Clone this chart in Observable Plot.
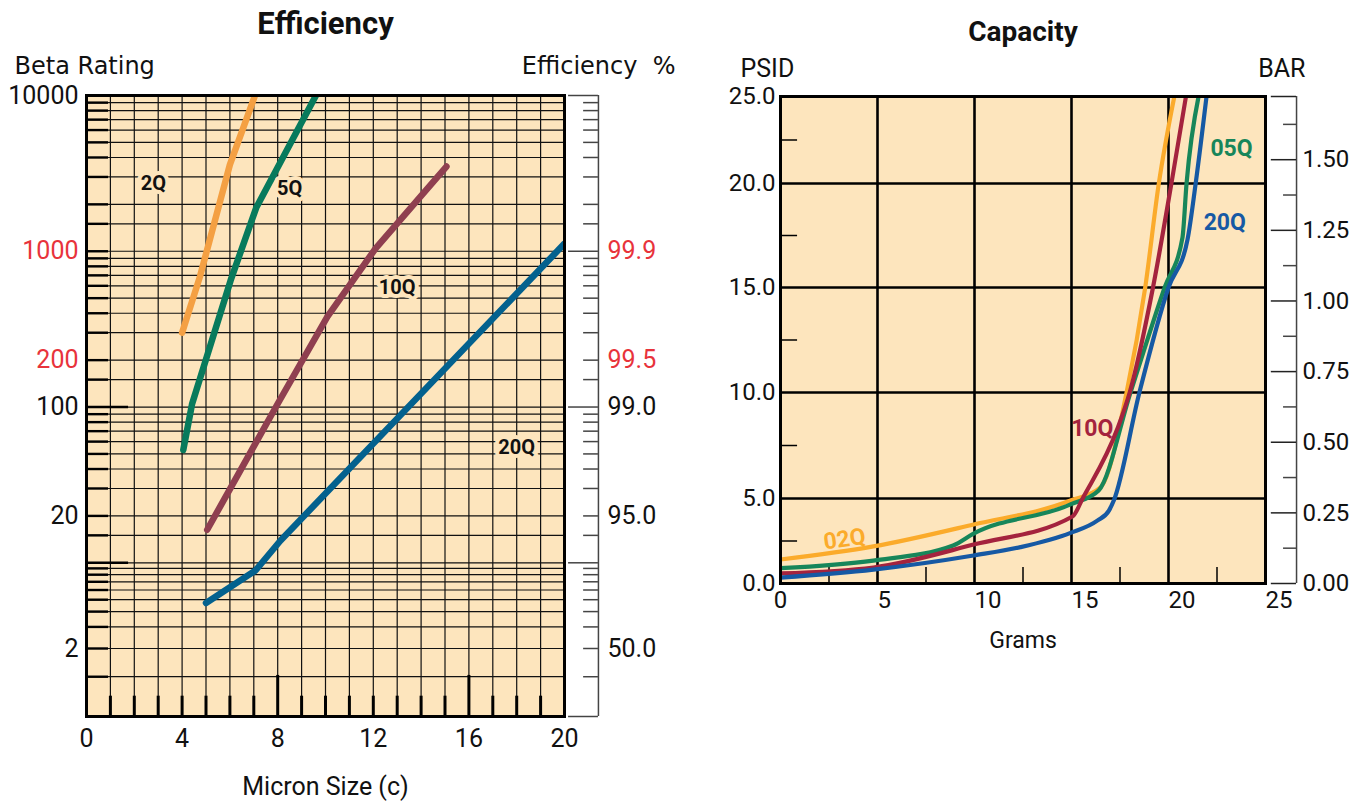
<!DOCTYPE html>
<html>
<head>
<meta charset="utf-8">
<script src="https://cdn.jsdelivr.net/npm/d3@7"></script>
<script src="https://cdn.jsdelivr.net/npm/@observablehq/plot@0.6"></script>
<style>
  html, body { margin: 0; padding: 0; background: #ffffff; }
  #wrap { position: relative; width: 1362px; height: 801px; overflow: hidden; }
  #wrap svg { position: absolute; top: 0; }
</style>
</head>
<body>
<div id="wrap"></div>
<script>
// ================= EFFICIENCY (Beta rating vs micron size) =================
const micron2Q  = [4, 4.75, 6, 7.05];
const beta2Q    = [300, 690, 3600, 10000];
const micron5Q  = [4.05, 4.42, 5.05, 6.03, 7.1, 9.6];
const beta5Q    = [53, 105, 214, 650, 1900, 10000];
const micron10Q = [5.05, 8, 10.08, 12.09, 15.06];
const beta10Q   = [16.3, 105, 380, 1040, 3500];
const micron20Q = [5, 7.07, 8.12, 20];
const beta20Q   = [4.7, 8.65, 13.9, 1120];

const effSeriesNames  = ["2Q", "5Q", "10Q", "20Q"];
const effSeriesColors = ["#f4a043", "#087a5c", "#8f3f50", "#03618e"];
const effLabelMicron  = [2.8, 8.5, 13.0, 18.0];
const effLabelBeta    = [2720, 2530, 585, 55];

const betaTickValues  = [10000, 1000, 200, 100, 20, 2];
const betaTickLabels  = ["10000", "1000", "200", "100", "20", "2"];
const betaTickRed     = [false, true, true, false, false, false];
const effTickBeta     = [1000, 200, 100, 20, 2];
const effTickLabels   = ["99.9", "99.5", "99.0", "95.0", "50.0"];
const effTickRed      = [true, true, false, false, false];
const micronTicks     = [0, 4, 8, 12, 16, 20];
const micronGrid      = [1,2,3,4,5,6,7,8,9,10,11,12,13,14,15,16,17,18,19];
const micronLongTicks = [8, 16];
const gridMultipliers = [1, 1.5, 2, 3, 4, 5, 6, 7, 8, 9];
const decadeStarts    = [1, 10, 100, 1000];
const decadeLines     = [1, 10, 100, 1000, 10000];
const leftLongTicks   = [10, 100];

// ================= CAPACITY (PSID vs grams) =================
const grams02Q = [0, 4.79, 9.95, 14.95, 16.5, 17.84, 18.8, 19.5, 20.3];
const psid02Q  = [1.41, 2.18, 3.47, 4.88, 5.53, 10, 15, 20, 25];
const grams05Q = [0, 4.79, 8.9, 9.93, 14.95, 16.4, 18.04, 19.8, 20.72, 20.93, 21.55];
const psid05Q  = [0.9, 1.35, 2.24, 2.92, 4.65, 5.38, 10, 15, 17.4, 20, 25];
const grams10Q = [0, 4.79, 9.95, 15.05, 15.6, 17.37, 18.0, 19.2, 20.15, 20.9];
const psid10Q  = [0.59, 0.94, 2.29, 3.94, 5.05, 8.3, 10, 15, 20, 25];
const grams20Q = [0, 4.79, 9.95, 12.37, 14.95, 16.33, 16.93, 17.18, 18.5, 20.0, 20.98, 21.4, 21.96];
const psid20Q  = [0.35, 0.82, 1.65, 2.14, 2.98, 3.7, 4.29, 4.88, 10, 15, 17.3, 20, 25];

const capSeriesNames  = ["02Q", "05Q", "10Q", "20Q"];
const capSeriesColors = ["#fbab2b", "#17865a", "#a4233e", "#1659a4"];
const capLabelGrams   = [3.3, 23.25, 16.07, 22.9];
const capLabelPsid    = [2.6, 22.0, 8.28, 18.14];
const capLabelRotate  = [-8, 0, 0, 0];

const psidTicks   = [0, 5, 10, 15, 20, 25];
const psidLabels  = ["0.0", "5.0", "10.0", "15.0", "20.0", "25.0"];
const gramTicks   = [0, 5, 10, 15, 20, 25];
const gramLabels  = ["0", "5", "10", "15", "20", "25"];
const psidMinor   = [2.5, 7.5, 12.5, 17.5, 22.5];
const gramMinor   = [2.5, 7.5, 12.5, 17.5, 22.5];
const barMajor    = [0, 0.25, 0.5, 0.75, 1.0, 1.25, 1.5];
const barLabels   = ["0.00", "0.25", "0.50", "0.75", "1.00", "1.25", "1.50"];
const barMinor    = [0.125, 0.375, 0.625, 0.875, 1.125, 1.375, 1.625];
const PSI_PER_BAR = 14.5038;

// ================= styling / layout constants =================
const PEACH = "#fde5bd";
const FONT = "Roboto, 'Noto Sans', sans-serif";
const wrap = document.getElementById("wrap");

const betaGrid = decadeStarts.flatMap(d => gridMultipliers.map(m => m * d)).concat([10000]);
const toRows = (xs, ys) => xs.map((x, i) => ({x, y: ys[i]}));

// ---------- Efficiency chart ----------
const EFF_AXIS_X = 21.42;
const effTop = 95, effBottom = 716;
const effLines = [
  toRows(micron2Q, beta2Q), toRows(micron5Q, beta5Q),
  toRows(micron10Q, beta10Q), toRows(micron20Q, beta20Q)
];
const effLabels = effSeriesNames.map((t, i) => ({t, x: effLabelMicron[i], y: effLabelBeta[i]}));
const betaTicks = betaTickValues.map((v, i) => ({v, t: betaTickLabels[i], red: betaTickRed[i]}));
const effTicks = effTickBeta.map((v, i) => ({v, t: effTickLabels[i], red: effTickRed[i]}));
const MID = {lineAnchor: "middle"};

const effPlot = Plot.plot({
  width: 700, height: 801,
  marginLeft: 86, marginRight: 136, marginTop: effTop, marginBottom: 801 - effBottom,
  style: {fontFamily: FONT, fontSize: "25px", background: "transparent", overflow: "visible", color: "#000"},
  x: {type: "linear", domain: [0, 20], axis: null},
  y: {type: "log", domain: [1, 2, 10, 10000], range: [effBottom, 648, 562.3, effTop], axis: null},
  marks: [
    Plot.frame({fill: PEACH, stroke: null}),
    Plot.ruleX(micronGrid, {stroke: "#111", strokeWidth: 1.2}),
    Plot.ruleY(betaGrid, {stroke: "#111", strokeWidth: 1.2}),
    Plot.ruleY(betaGrid, {x1: 0, x2: d => leftLongTicks.includes(d) ? 1.76 : 0.92, stroke: "#000", strokeWidth: 2.4}),
    Plot.ruleX(micronGrid, {y1: 1, y2: d => micronLongTicks.includes(d) ? 1.52 : 1.23, stroke: "#000", strokeWidth: 3}),
    // Efficiency % axis on the right
    Plot.ruleX([EFF_AXIS_X], {y1: 1, y2: 10000, stroke: "#444", strokeWidth: 1.5}),
    Plot.ruleY(betaGrid, {x1: d => decadeLines.includes(d) ? 20.17 : 20.8, x2: EFF_AXIS_X, stroke: "#444", strokeWidth: 1.5}),
    // series
    ...effLines.map((rows, i) => Plot.line(rows, {
      x: "x", y: "y", stroke: effSeriesColors[i], strokeWidth: 6.5,
      strokeLinecap: "round", strokeLinejoin: "round", clip: true
    })),
    Plot.text(effLabels, {x: "x", y: "y", text: "t", fontWeight: "bold", fontSize: 20,
      fill: "#111", stroke: PEACH, strokeWidth: 8, ...MID}),
    Plot.frame({stroke: "#000", strokeWidth: 3}),
    // tick labels
    Plot.text(betaTicks.filter(d => !d.red), {y: "v", text: "t", frameAnchor: "left", dx: -8, textAnchor: "end", fill: "#111", ...MID}),
    Plot.text(betaTicks.filter(d => d.red), {y: "v", text: "t", frameAnchor: "left", dx: -8, textAnchor: "end", fill: "#e8333b", ...MID}),
    Plot.text(effTicks.filter(d => !d.red), {x: EFF_AXIS_X, y: "v", text: "t", dx: 9, textAnchor: "start", fill: "#111", ...MID}),
    Plot.text(effTicks.filter(d => d.red), {x: EFF_AXIS_X, y: "v", text: "t", dx: 9, textAnchor: "start", fill: "#e8333b", ...MID}),
    Plot.text(micronTicks, {x: d => d, text: d => String(d), frameAnchor: "bottom", dy: 22, fill: "#111", ...MID}),
    // titles
    Plot.text(["Efficiency"], {frameAnchor: "top", dy: -71, fontWeight: "bold", fontSize: 31, fill: "#111", ...MID}),
    Plot.text(["Beta Rating"], {frameAnchor: "top-left", dx: -72, dy: -29, textAnchor: "start",
      fontFamily: "'DejaVu Sans', sans-serif", fontSize: 24, fill: "#111", ...MID}),
    Plot.text(["Efficiency\u00a0 %"], {frameAnchor: "top-right", dx: 111, dy: -29, textAnchor: "end",
      fontFamily: "'DejaVu Sans', sans-serif", fontSize: 24, fill: "#111", ...MID}),
    Plot.text(["Micron Size (c)"], {frameAnchor: "bottom", dy: 70, fontSize: 25, fill: "#111", ...MID})
  ]
});
effPlot.style.left = "0px";
wrap.appendChild(effPlot);

// ---------- Capacity chart ----------
const capTop = 96, capBottom = 583;
const capLines = [
  toRows(grams02Q, psid02Q), toRows(grams05Q, psid05Q),
  toRows(grams10Q, psid10Q), toRows(grams20Q, psid20Q)
];
const capLabels = capSeriesNames.map((t, i) => ({t, x: capLabelGrams[i], y: capLabelPsid[i], c: capSeriesColors[i], r: capLabelRotate[i]}));
const psidTickRows = psidTicks.map((v, i) => ({v, t: psidLabels[i]}));
const gramTickRows = gramTicks.map((v, i) => ({v, t: gramLabels[i]}));

const capPlot = Plot.plot({
  width: 662, height: 801,
  marginLeft: 80, marginRight: 97, marginTop: capTop, marginBottom: 801 - capBottom,
  style: {fontFamily: FONT, fontSize: "24px", background: "transparent", overflow: "visible", color: "#000"},
  x: {type: "linear", domain: [0, 25], axis: null},
  y: {type: "linear", domain: [0, 5, 10, 15, 20, 25], range: [capBottom, 498, 392, 287, 183, capTop], axis: null},
  marks: [
    Plot.frame({fill: PEACH, stroke: null}),
    Plot.ruleX(gramTicks.slice(1, -1), {stroke: "#000", strokeWidth: 2.6}),
    Plot.ruleY(psidTicks.slice(1, -1), {stroke: "#000", strokeWidth: 2.6}),
    Plot.ruleY(psidMinor, {x1: 0, x2: 0.88, stroke: "#000", strokeWidth: 1.5}),
    Plot.ruleX(gramMinor, {y1: 0, y2: 0.94, stroke: "#000", strokeWidth: 1.5}),
    ...capLines.map((rows, i) => Plot.line(rows, {
      x: "x", y: "y", stroke: capSeriesColors[i], strokeWidth: 4.2, curve: "monotone-x",
      strokeLinejoin: "round", clip: true
    })),
    ...capLabels.map(d => Plot.text([d], {x: "x", y: "y", text: "t", fill: d.c, rotate: d.r,
      fontWeight: "bold", fontSize: 23, ...MID})),
    Plot.frame({stroke: "#000", strokeWidth: 3}),
    Plot.text(psidTickRows, {y: "v", text: "t", frameAnchor: "left", dx: -5, textAnchor: "end", fill: "#111", ...MID}),
    Plot.text(gramTickRows.slice(0, 1), {x: "v", text: "t", frameAnchor: "bottom", dy: 17, fill: "#111", ...MID}),
    Plot.text(gramTickRows.slice(1), {x: "v", text: "t", frameAnchor: "bottom", dy: 17, textAnchor: "start", fill: "#111", ...MID}),
    Plot.text(["Capacity"], {frameAnchor: "top", dy: -64, fontWeight: "bold", fontSize: 28, fill: "#111", ...MID}),
    Plot.text(["PSID"], {frameAnchor: "top-left", dx: -40, dy: -28, textAnchor: "start", fontSize: 25, fill: "#111", ...MID}),
    Plot.text(["Grams"], {frameAnchor: "bottom", dy: 57, fontSize: 23, fill: "#111", ...MID})
  ]
});
capPlot.style.left = "700px";
wrap.appendChild(capPlot);

// ---------- BAR secondary axis (linear, same pixel extent as PSID) ----------
const BAR_MAX = 25 / PSI_PER_BAR;
const BAR_AXIS_X = 26.6;
const barPlot = Plot.plot({
  width: 662, height: 801,
  marginLeft: 80, marginRight: 97, marginTop: capTop, marginBottom: 801 - capBottom,
  style: {fontFamily: FONT, fontSize: "24px", background: "transparent", overflow: "visible", pointerEvents: "none"},
  x: {type: "linear", domain: [0, 25], axis: null},
  y: {type: "linear", domain: [0, BAR_MAX], range: [capBottom, capTop], axis: null},
  marks: [
    Plot.ruleX([BAR_AXIS_X], {y1: 0, y2: BAR_MAX, stroke: "#444", strokeWidth: 1.5}),
    Plot.ruleY(barMajor.concat([BAR_MAX]), {x1: 25.3, x2: BAR_AXIS_X, stroke: "#222", strokeWidth: 1.5}),
    Plot.ruleY(barMinor, {x1: 25.93, x2: BAR_AXIS_X, stroke: "#444", strokeWidth: 1.5}),
    Plot.text(barMajor.map((v, i) => ({v, t: barLabels[i]})), {x: BAR_AXIS_X, y: "v", text: "t", dx: 6, textAnchor: "start", fill: "#111", ...MID}),
    Plot.text(["BAR"], {frameAnchor: "top-right", dx: 40, dy: -28, textAnchor: "end", fontSize: 25, fill: "#111", ...MID})
  ]
});
barPlot.style.left = "700px";
wrap.appendChild(barPlot);
</script>
</body>
</html>
